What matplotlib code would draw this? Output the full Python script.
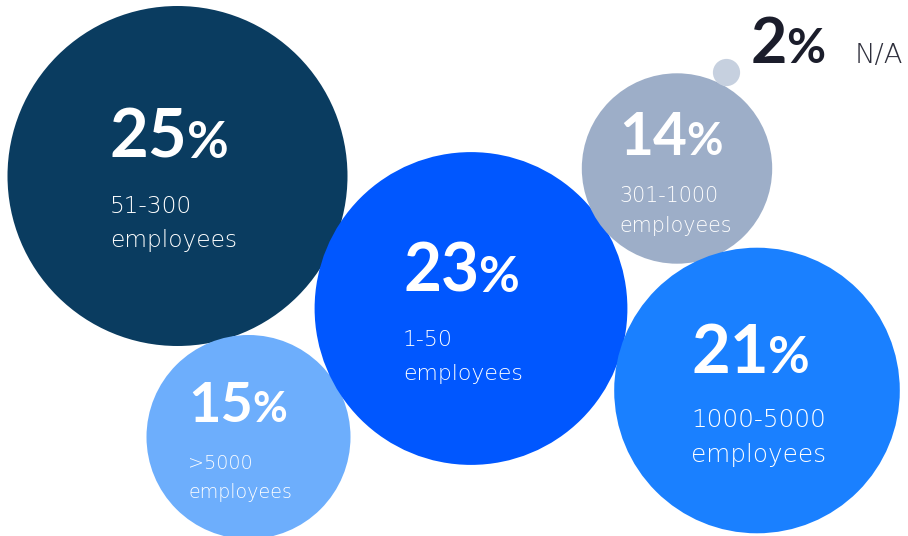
import matplotlib.pyplot as plt
from matplotlib.patches import Circle

# share of respondents by company size
shares = [25, 15, 23, 14, 21, 2]
groups = ["51-300", ">5000", "1-50", "301-1000", "1000-5000", "N/A"]
colors = ["#0a3c60", "#6daefc", "#0057ff", "#9daec8", "#1a80ff", "#c6d0df"]

# bubble centres in pixel space (y grows downward)
cx = [177.5, 248.5, 471, 677, 757, 726.5]
cy = [176, 437, 308.5, 168.5, 390.5, 72.5]
px_per_share = 6.8

# label layout for the five big bubbles
lab_dx = [-67.5, -60, -68, -58, -66]
big_dy = [-18, -15, -17, -13.5, -17.5]
sub_dy = [37, 32, 37.5, 33.5, 36.5]
sub_gap = [34, 29, 34, 30, 35]
big_cap = [48, 40, 47, 42, 48]
sub_cap = [17, 14, 16, 15, 18]

BIG_FONT = "Lato"
SUB_FONT = "DejaVu Sans"


def cap_to_pt(cap_px, cap_em):
    return cap_px / cap_em * 0.72


fig = plt.figure(figsize=(9.08, 5.36), dpi=100)
ax = fig.add_axes([0, 0, 1, 1])
ax.set_xlim(0, 908)
ax.set_ylim(536, 0)
ax.axis("off")

for i, s in enumerate(shares):
    ax.add_patch(Circle((cx[i], cy[i]), s * px_per_share, color=colors[i], lw=0))

renderer = fig.canvas.get_renderer()


def big_number(x, y, value, cap, color):
    fs = cap_to_pt(cap, 0.7165)
    t = ax.text(x, y, str(value), fontsize=fs, fontfamily=BIG_FONT,
                fontweight="bold", color=color, ha="left", va="baseline")
    bb = t.get_window_extent(renderer)
    x1 = ax.transData.inverted().transform((bb.x1, bb.y0))[0]
    ax.text(x1 - 1, y, "%", fontsize=fs * 0.76, fontfamily=BIG_FONT,
            fontweight="bold", color=color, ha="left", va="baseline")


def small_text(x, y, s, cap, color):
    ax.text(x, y, s, fontsize=cap_to_pt(cap, 0.729), fontfamily=SUB_FONT,
            fontweight="light", color=color, ha="left", va="baseline")


for i in range(5):
    x = cx[i] + lab_dx[i]
    big_number(x, cy[i] + big_dy[i], shares[i], big_cap[i], "white")
    small_text(x, cy[i] + sub_dy[i], groups[i], sub_cap[i], "white")
    small_text(x, cy[i] + sub_dy[i] + sub_gap[i], "employees", sub_cap[i], "white")

# the tiny N/A bubble gets its label outside
big_number(750.7, 63, shares[5], 45, "#1b1d2b")
small_text(855, 63, groups[5], 20, "#2e2f3c")

fig.savefig("out.png", dpi=100)
